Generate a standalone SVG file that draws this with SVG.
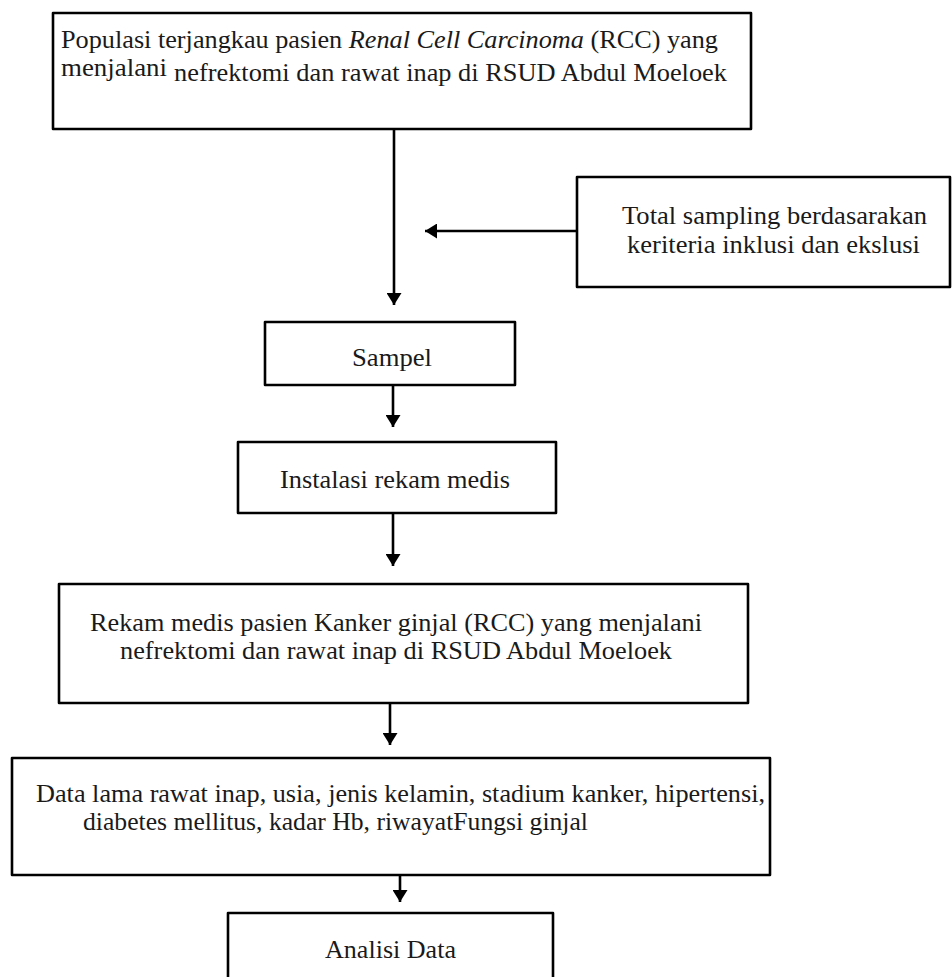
<svg xmlns="http://www.w3.org/2000/svg" width="952" height="977" viewBox="0 0 952 977">
<style>
.box{fill:#fff;stroke:#000;stroke-width:2.6;stroke-linejoin:round}
.t{font-family:"Liberation Serif","Times New Roman",serif;font-size:25.5px;fill:#1a1a1a}
.c{stroke:#000;stroke-width:2.6;fill:none}
</style>
<defs>
<marker id="ah" markerUnits="userSpaceOnUse" markerWidth="13" markerHeight="15" refX="12" refY="7.5" orient="auto">
<path d="M0,0 L12,7.5 L0,15 z" fill="#000"/>
</marker>
</defs>
<rect width="952" height="977" fill="#fff"/>
<g id="connectors">
<line class="c" x1="394" y1="129" x2="394" y2="305" marker-end="url(#ah)"/>
<line class="c" x1="577" y1="231" x2="425" y2="231" marker-end="url(#ah)"/>
<line class="c" x1="393" y1="385" x2="393" y2="427" marker-end="url(#ah)"/>
<line class="c" x1="393" y1="513" x2="393" y2="566" marker-end="url(#ah)"/>
<line class="c" x1="390" y1="703" x2="390" y2="745" marker-end="url(#ah)"/>
<line class="c" x1="400" y1="875" x2="400" y2="902" marker-end="url(#ah)"/>
</g>
<g id="populasi">
<rect class="box" x="53" y="13" width="698" height="116"/>
<text class="t" x="61" y="48" textLength="657" lengthAdjust="spacingAndGlyphs">Populasi terjangkau pasien <tspan font-style="italic">Renal Cell Carcinoma</tspan> (RCC) yang</text>
<text class="t" x="61" y="76" textLength="106" lengthAdjust="spacingAndGlyphs">menjalani</text>
<text class="t" x="174" y="81" textLength="553" lengthAdjust="spacingAndGlyphs">nefrektomi dan rawat inap di RSUD Abdul Moeloek</text>
</g>
<g id="total-sampling">
<rect class="box" x="577" y="177" width="373" height="110"/>
<text class="t" x="622" y="224" textLength="305" lengthAdjust="spacingAndGlyphs">Total sampling berdasarakan</text>
<text class="t" x="627" y="253" textLength="293" lengthAdjust="spacingAndGlyphs">keriteria inklusi dan ekslusi</text>
</g>
<g id="sampel">
<rect class="box" x="265" y="322" width="250" height="63"/>
<text class="t" x="352" y="366" textLength="80" lengthAdjust="spacingAndGlyphs">Sampel</text>
</g>
<g id="instalasi">
<rect class="box" x="238" y="442" width="318" height="71"/>
<text class="t" x="280" y="488" textLength="230" lengthAdjust="spacingAndGlyphs">Instalasi rekam medis</text>
</g>
<g id="rekam-medis">
<rect class="box" x="59" y="584" width="689" height="119"/>
<text class="t" x="90" y="631" textLength="612" lengthAdjust="spacingAndGlyphs">Rekam medis pasien Kanker ginjal (RCC) yang menjalani</text>
<text class="t" x="120" y="659" textLength="552" lengthAdjust="spacingAndGlyphs">nefrektomi dan rawat inap di RSUD Abdul Moeloek</text>
</g>
<g id="data">
<rect class="box" x="12" y="758" width="758" height="117"/>
<text class="t" x="36" y="802" textLength="729" lengthAdjust="spacingAndGlyphs">Data lama rawat inap, usia, jenis kelamin, stadium kanker, hipertensi,</text>
<text class="t" x="83" y="830" textLength="505" lengthAdjust="spacingAndGlyphs">diabetes mellitus, kadar Hb, riwayatFungsi ginjal</text>
</g>
<g id="analisi">
<rect class="box" x="228" y="913" width="325" height="80"/>
<text class="t" x="325" y="958" textLength="131" lengthAdjust="spacingAndGlyphs">Analisi Data</text>
</g>
</svg>
